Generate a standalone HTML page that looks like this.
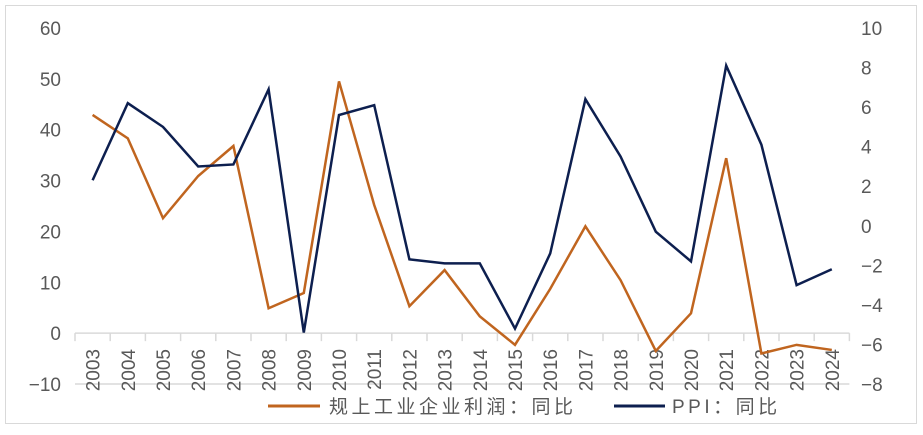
<!DOCTYPE html>
<html><head><meta charset="utf-8"><style>
body{margin:0;background:#fff;}
svg text{font-family:"Liberation Sans","Noto Sans CJK SC",sans-serif;fill:#595959;}
</style></head><body>
<svg width="923" height="430" xmlns="http://www.w3.org/2000/svg">
<rect x="5.5" y="5.5" width="911" height="418" fill="#fff" stroke="#d9d9d9"/>
<g id="axes"></g>
<g id="series"></g>
<g>
<line x1="268" y1="406" x2="320" y2="406" stroke="#c0651f" stroke-width="3"/>
<text x="329" y="413" font-size="19" letter-spacing="3.5">规上工业企业利润：同比</text>
<line x1="614" y1="406" x2="665" y2="406" stroke="#0d1f4f" stroke-width="3"/>
<text x="672" y="413" font-size="19" letter-spacing="3.5">PPI：同比</text>
</g>
</svg>
<script>
const years=["2003","2004","2005","2006","2007","2008","2009","2010","2011","2012","2013","2014","2015","2016","2017","2018","2019","2020","2021","2022","2023","2024"];
const profit=[42.9,38.3,22.6,30.9,36.8,4.9,7.9,49.5,25.2,5.3,12.4,3.3,-2.3,8.7,21.0,10.4,-3.5,3.9,34.4,-4.0,-2.3,-3.3];
const ppi=[2.3,6.2,5.0,3.0,3.1,6.9,-5.4,5.6,6.1,-1.7,-1.9,-1.9,-5.2,-1.4,6.4,3.5,-0.3,-1.8,8.1,4.1,-3.0,-2.2];
const leftTicks=[60,50,40,30,20,10,0,-10];
const rightTicks=[10,8,6,4,2,0,-2,-4,-6,-8];
const NS="http://www.w3.org/2000/svg";
const x0=75,bw=35.2,yTop=28,yBot=384;
const yL=v=>yTop+(60-v)/70*(yBot-yTop);
const yR=v=>yTop+(10-v)/18*(yBot-yTop);
const xC=i=>x0+bw*(i+0.5);
function mk(t,a,p){const e=document.createElementNS(NS,t);for(const k in a)e.setAttribute(k,a[k]);p.appendChild(e);return e;}
const ax=document.getElementById('axes'),se=document.getElementById('series');
leftTicks.forEach(v=>{const t=mk('text',{x:61,y:yL(v)+7,'font-size':19,'text-anchor':'end'},ax);t.textContent=v<0?'−'+(-v):v;

});
rightTicks.forEach(v=>{const t=mk('text',{x:861,y:yR(v)+7,'font-size':19,'text-anchor':'start'},ax);t.textContent=v<0?'−'+(-v):v;

});
const xEnd=x0+bw*years.length;
const bl=mk('line',{x1:x0,y1:yL(-10),x2:xEnd,y2:yL(-10),stroke:'#d9d9d9','stroke-width':1.5},ax);


const zl=mk('line',{x1:x0,y1:yL(0),x2:xEnd,y2:yL(0),stroke:'#d9d9d9','stroke-width':1.5},ax);


for(let i=0;i<=years.length;i++){const l=mk('line',{x1:x0+bw*i,y1:yL(0),x2:x0+bw*i,y2:yL(0)+8,stroke:'#d9d9d9','stroke-width':1.5},ax);

}
years.forEach((y,i)=>{const cx=xC(i)+7;const t=mk('text',{x:0,y:0,'font-size':19,'text-anchor':'end',transform:`translate(${cx},349) rotate(-90)`},ax);t.textContent=y;

});
const p1=mk('polyline',{points:profit.map((v,i)=>xC(i)+','+yL(v)).join(' '),fill:'none',stroke:'#c0651f','stroke-width':2.5,'stroke-linejoin':'miter'},se);


const p2=mk('polyline',{points:ppi.map((v,i)=>xC(i)+','+yR(v)).join(' '),fill:'none',stroke:'#0d1f4f','stroke-width':2.5},se);


</script>
</body></html>
